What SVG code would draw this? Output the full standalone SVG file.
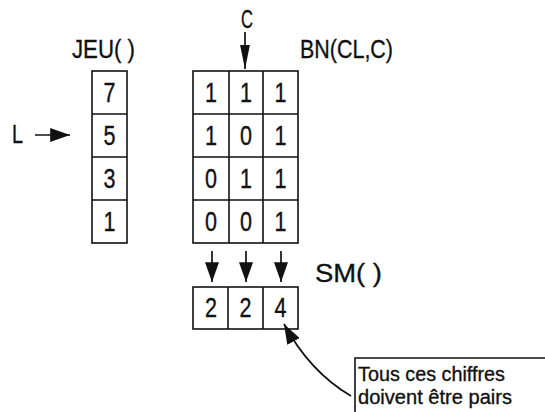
<svg xmlns="http://www.w3.org/2000/svg" width="545" height="412" viewBox="0 0 545 412">
<style>
text{font-family:"Liberation Sans",Arial,sans-serif;fill:#111;stroke:#111;stroke-width:0.35}
.d{font-size:27px;text-anchor:middle}
.lb{font-size:25px}
.nt{font-size:20.5px}
.c{fill:#fff;stroke:#111;stroke-width:1.6}
.ln{stroke:#111;stroke-width:1.6;fill:none}
.cn{stroke:#111;stroke-width:1.7;fill:none}
</style>
<defs>
<marker id="ah" markerUnits="userSpaceOnUse" markerWidth="20" markerHeight="14" refX="17" refY="6" orient="auto" viewBox="0 0 17 12">
<path d="M0,0 L17,6 L0,12 Z" fill="#111"/>
</marker>
<marker id="ahn" markerUnits="userSpaceOnUse" markerWidth="24" markerHeight="10" refX="22" refY="4.5" orient="auto" viewBox="0 0 22 9">
<path d="M0,0 L22,4.5 L0,9 Z" fill="#111"/>
</marker>
</defs>
<rect width="545" height="412" fill="#fff"/>

<g id="jeu">
<text class="lb" x="72" y="58" textLength="63" lengthAdjust="spacingAndGlyphs">JEU( )</text>
<rect class="c" x="92" y="71" width="35" height="172"/>
<path class="ln" d="M92,114H127M92,157H127M92,200H127"/>
<text class="d" x="109.5" y="102" textLength="12" lengthAdjust="spacingAndGlyphs">7</text>
<text class="d" x="109.5" y="145" textLength="12" lengthAdjust="spacingAndGlyphs">5</text>
<text class="d" x="109.5" y="188" textLength="12" lengthAdjust="spacingAndGlyphs">3</text>
<text class="d" x="109.5" y="231" textLength="12" lengthAdjust="spacingAndGlyphs">1</text>
</g>

<g id="label-L">
<text class="lb" x="12" y="143" textLength="11" lengthAdjust="spacingAndGlyphs">L</text>
</g>

<g id="label-C">
<text class="lb" x="247" y="28" text-anchor="middle" textLength="12" lengthAdjust="spacingAndGlyphs">C</text>
</g>

<g id="bn">
<text class="lb" x="300" y="58" textLength="93" lengthAdjust="spacingAndGlyphs">BN(CL,C)</text>
<rect class="c" x="193" y="71" width="105" height="172"/>
<path class="ln" d="M193,114H298M193,157H298M193,200H298M229,71V243M263,71V243"/>
<text class="d" x="211" y="102" textLength="12" lengthAdjust="spacingAndGlyphs">1</text>
<text class="d" x="246" y="102" textLength="12" lengthAdjust="spacingAndGlyphs">1</text>
<text class="d" x="280.5" y="102" textLength="12" lengthAdjust="spacingAndGlyphs">1</text>
<text class="d" x="211" y="145" textLength="12" lengthAdjust="spacingAndGlyphs">1</text>
<text class="d" x="246" y="145" textLength="12" lengthAdjust="spacingAndGlyphs">0</text>
<text class="d" x="280.5" y="145" textLength="12" lengthAdjust="spacingAndGlyphs">1</text>
<text class="d" x="211" y="188" textLength="12" lengthAdjust="spacingAndGlyphs">0</text>
<text class="d" x="246" y="188" textLength="12" lengthAdjust="spacingAndGlyphs">1</text>
<text class="d" x="280.5" y="188" textLength="12" lengthAdjust="spacingAndGlyphs">1</text>
<text class="d" x="211" y="231" textLength="12" lengthAdjust="spacingAndGlyphs">0</text>
<text class="d" x="246" y="231" textLength="12" lengthAdjust="spacingAndGlyphs">0</text>
<text class="d" x="280.5" y="231" textLength="12" lengthAdjust="spacingAndGlyphs">1</text>
</g>

<g id="sm">
<text class="lb" x="315" y="282" textLength="67" lengthAdjust="spacingAndGlyphs">SM( )</text>
<rect class="c" x="193" y="287" width="105" height="42"/>
<path class="ln" d="M228,287V329M263,287V329"/>
<text class="d" x="211" y="317" textLength="12" lengthAdjust="spacingAndGlyphs">2</text>
<text class="d" x="245.5" y="317" textLength="12" lengthAdjust="spacingAndGlyphs">2</text>
<text class="d" x="280.5" y="317" textLength="12" lengthAdjust="spacingAndGlyphs">4</text>
</g>

<g id="note">
<path class="ln" d="M355,412V358H545"/>
<text class="nt" x="358" y="381" textLength="147" lengthAdjust="spacingAndGlyphs">Tous ces chiffres</text>
<text class="nt" x="358" y="404" textLength="154" lengthAdjust="spacingAndGlyphs">doivent être pairs</text>
</g>

<g id="connectors">
<line class="cn" x1="35" y1="135" x2="70" y2="135" marker-end="url(#ah)"/>
<line class="cn" x1="245" y1="32" x2="245" y2="69" marker-end="url(#ahn)"/>
<line class="cn" x1="212" y1="251" x2="212" y2="282" marker-end="url(#ah)"/>
<line class="cn" x1="246" y1="251" x2="246" y2="282" marker-end="url(#ah)"/>
<line class="cn" x1="281" y1="251" x2="281" y2="282" marker-end="url(#ah)"/>
<path class="cn" d="M351,396 Q310,372 284,324" marker-end="url(#ah)"/>
</g>
</svg>
